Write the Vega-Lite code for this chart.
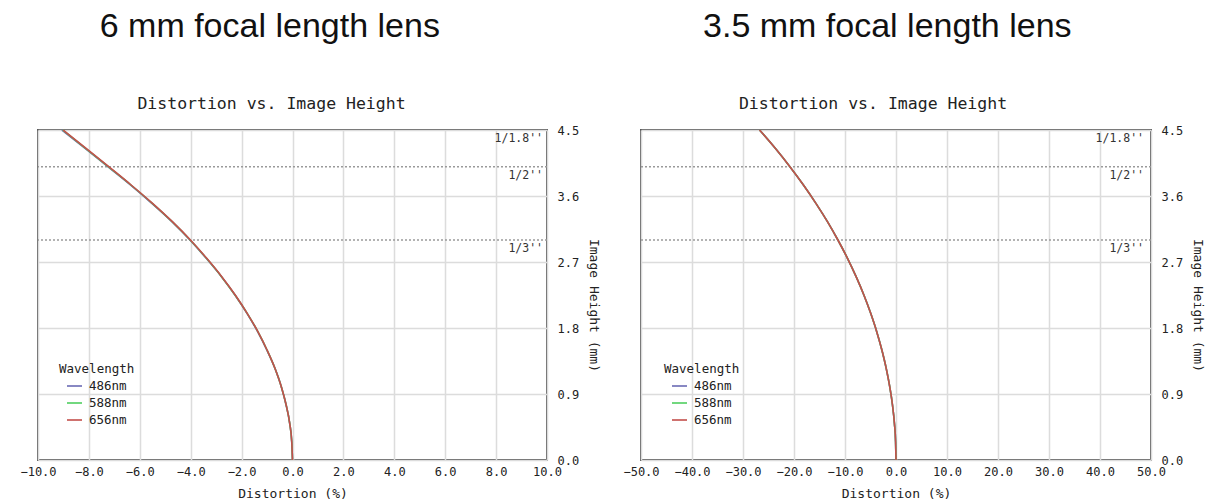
{
  "$schema": "https://vega.github.io/schema/vega-lite/v6.json",
  "background": "white",
  "padding": {"left": 18, "top": 9, "right": 0, "bottom": 0},
  "spacing": 20,
  "datasets": {
    "left": [
      {"wl": "486nm", "h": 0, "d": 0}, {"wl": "486nm", "h": 0.25, "d": -0.03}, {"wl": "486nm", "h": 0.5, "d": -0.11}, {"wl": "486nm", "h": 0.75, "d": -0.25}, {"wl": "486nm", "h": 1.0, "d": -0.44}, {"wl": "486nm", "h": 1.25, "d": -0.69}, {"wl": "486nm", "h": 1.5, "d": -1.01}, {"wl": "486nm", "h": 1.75, "d": -1.37}, {"wl": "486nm", "h": 2.0, "d": -1.79}, {"wl": "486nm", "h": 2.25, "d": -2.26}, {"wl": "486nm", "h": 2.5, "d": -2.79}, {"wl": "486nm", "h": 2.75, "d": -3.39}, {"wl": "486nm", "h": 3.0, "d": -4.03}, {"wl": "486nm", "h": 3.25, "d": -4.74}, {"wl": "486nm", "h": 3.5, "d": -5.53}, {"wl": "486nm", "h": 3.75, "d": -6.37}, {"wl": "486nm", "h": 4.0, "d": -7.26}, {"wl": "486nm", "h": 4.25, "d": -8.15}, {"wl": "486nm", "h": 4.5, "d": -9.06},
      {"wl": "588nm", "h": 0, "d": 0}, {"wl": "588nm", "h": 0.25, "d": -0.03}, {"wl": "588nm", "h": 0.5, "d": -0.11}, {"wl": "588nm", "h": 0.75, "d": -0.25}, {"wl": "588nm", "h": 1.0, "d": -0.44}, {"wl": "588nm", "h": 1.25, "d": -0.69}, {"wl": "588nm", "h": 1.5, "d": -1.00}, {"wl": "588nm", "h": 1.75, "d": -1.36}, {"wl": "588nm", "h": 2.0, "d": -1.78}, {"wl": "588nm", "h": 2.25, "d": -2.26}, {"wl": "588nm", "h": 2.5, "d": -2.79}, {"wl": "588nm", "h": 2.75, "d": -3.38}, {"wl": "588nm", "h": 3.0, "d": -4.02}, {"wl": "588nm", "h": 3.25, "d": -4.73}, {"wl": "588nm", "h": 3.5, "d": -5.51}, {"wl": "588nm", "h": 3.75, "d": -6.35}, {"wl": "588nm", "h": 4.0, "d": -7.24}, {"wl": "588nm", "h": 4.25, "d": -8.13}, {"wl": "588nm", "h": 4.5, "d": -9.03},
      {"wl": "656nm", "h": 0, "d": 0}, {"wl": "656nm", "h": 0.25, "d": -0.03}, {"wl": "656nm", "h": 0.5, "d": -0.11}, {"wl": "656nm", "h": 0.75, "d": -0.25}, {"wl": "656nm", "h": 1.0, "d": -0.44}, {"wl": "656nm", "h": 1.25, "d": -0.69}, {"wl": "656nm", "h": 1.5, "d": -1.00}, {"wl": "656nm", "h": 1.75, "d": -1.36}, {"wl": "656nm", "h": 2.0, "d": -1.78}, {"wl": "656nm", "h": 2.25, "d": -2.25}, {"wl": "656nm", "h": 2.5, "d": -2.78}, {"wl": "656nm", "h": 2.75, "d": -3.37}, {"wl": "656nm", "h": 3.0, "d": -4.01}, {"wl": "656nm", "h": 3.25, "d": -4.72}, {"wl": "656nm", "h": 3.5, "d": -5.50}, {"wl": "656nm", "h": 3.75, "d": -6.34}, {"wl": "656nm", "h": 4.0, "d": -7.22}, {"wl": "656nm", "h": 4.25, "d": -8.11}, {"wl": "656nm", "h": 4.5, "d": -9.01}
    ],
    "right": [
      {"wl": "486nm", "h": 0, "d": 0}, {"wl": "486nm", "h": 0.25, "d": -0.08}, {"wl": "486nm", "h": 0.5, "d": -0.31}, {"wl": "486nm", "h": 0.75, "d": -0.69}, {"wl": "486nm", "h": 1.0, "d": -1.23}, {"wl": "486nm", "h": 1.25, "d": -1.92}, {"wl": "486nm", "h": 1.5, "d": -2.77}, {"wl": "486nm", "h": 1.75, "d": -3.78}, {"wl": "486nm", "h": 2.0, "d": -4.96}, {"wl": "486nm", "h": 2.25, "d": -6.30}, {"wl": "486nm", "h": 2.5, "d": -7.82}, {"wl": "486nm", "h": 2.75, "d": -9.51}, {"wl": "486nm", "h": 3.0, "d": -11.39}, {"wl": "486nm", "h": 3.25, "d": -13.44}, {"wl": "486nm", "h": 3.5, "d": -15.70}, {"wl": "486nm", "h": 3.75, "d": -18.15}, {"wl": "486nm", "h": 4.0, "d": -20.80}, {"wl": "486nm", "h": 4.25, "d": -23.67}, {"wl": "486nm", "h": 4.5, "d": -26.76},
      {"wl": "588nm", "h": 0, "d": 0}, {"wl": "588nm", "h": 0.25, "d": -0.08}, {"wl": "588nm", "h": 0.5, "d": -0.31}, {"wl": "588nm", "h": 0.75, "d": -0.69}, {"wl": "588nm", "h": 1.0, "d": -1.23}, {"wl": "588nm", "h": 1.25, "d": -1.92}, {"wl": "588nm", "h": 1.5, "d": -2.77}, {"wl": "588nm", "h": 1.75, "d": -3.78}, {"wl": "588nm", "h": 2.0, "d": -4.96}, {"wl": "588nm", "h": 2.25, "d": -6.30}, {"wl": "588nm", "h": 2.5, "d": -7.82}, {"wl": "588nm", "h": 2.75, "d": -9.51}, {"wl": "588nm", "h": 3.0, "d": -11.39}, {"wl": "588nm", "h": 3.25, "d": -13.44}, {"wl": "588nm", "h": 3.5, "d": -15.70}, {"wl": "588nm", "h": 3.75, "d": -18.15}, {"wl": "588nm", "h": 4.0, "d": -20.80}, {"wl": "588nm", "h": 4.25, "d": -23.67}, {"wl": "588nm", "h": 4.5, "d": -26.76},
      {"wl": "656nm", "h": 0, "d": 0}, {"wl": "656nm", "h": 0.25, "d": -0.08}, {"wl": "656nm", "h": 0.5, "d": -0.31}, {"wl": "656nm", "h": 0.75, "d": -0.69}, {"wl": "656nm", "h": 1.0, "d": -1.23}, {"wl": "656nm", "h": 1.25, "d": -1.92}, {"wl": "656nm", "h": 1.5, "d": -2.77}, {"wl": "656nm", "h": 1.75, "d": -3.78}, {"wl": "656nm", "h": 2.0, "d": -4.96}, {"wl": "656nm", "h": 2.25, "d": -6.30}, {"wl": "656nm", "h": 2.5, "d": -7.82}, {"wl": "656nm", "h": 2.75, "d": -9.51}, {"wl": "656nm", "h": 3.0, "d": -11.39}, {"wl": "656nm", "h": 3.25, "d": -13.44}, {"wl": "656nm", "h": 3.5, "d": -15.70}, {"wl": "656nm", "h": 3.75, "d": -18.15}, {"wl": "656nm", "h": 4.0, "d": -20.80}, {"wl": "656nm", "h": 4.25, "d": -23.67}, {"wl": "656nm", "h": 4.5, "d": -26.76}
    ],
    "sensors": [
      {"sensor": "1/1.8''", "h": 4.5},
      {"sensor": "1/2''", "h": 4.0},
      {"sensor": "1/3''", "h": 3.0}
    ]
  },
  "resolve": {"scale": {"color": "independent"}, "legend": {"color": "independent"}},
  "hconcat": [
    {
      "title": {"text": "6 mm focal length lens", "font": "Liberation Sans", "fontSize": 34, "fontWeight": "normal", "color": "#111", "anchor": "middle", "frame": "bounds", "dx": -40, "offset": 51},
      "vconcat": [
        {
          "title": {"text": "Distortion vs. Image Height", "font": "DejaVu Sans Mono", "fontSize": 16.5, "fontWeight": "normal", "color": "#222", "anchor": "middle", "frame": "group", "dx": -21, "offset": 12},
          "width": 509,
          "height": 330,
          "layer": [
            {
              "data": {"name": "sensors"},
              "transform": [{"filter": "datum.h < 4.5"}],
              "mark": {"type": "rule", "color": "#9a9a9a", "strokeDash": [2, 2], "strokeWidth": 1.5},
              "encoding": {"y": {"field": "h", "type": "quantitative", "scale": {"domain": [0, 4.5], "nice": false}}}
            },
            {
              "data": {"name": "left"},
              "mark": {"type": "line", "strokeWidth": 1.6, "interpolate": "monotone"},
              "encoding": {
                "x": {"field": "d", "type": "quantitative", "scale": {"domain": [-10, 10], "nice": false},
                  "axis": {"title": "Distortion (%)", "values": [-10, -8, -6, -4, -2, 0, 2, 4, 6, 8, 10], "format": ".1f", "labelFlush": false, "labelOverlap": false, "labelPadding": 6, "titlePadding": 10}},
                "y": {"field": "h", "type": "quantitative", "scale": {"domain": [0, 4.5], "nice": false},
                  "axis": {"orient": "right", "title": "Image Height (mm)", "titleY": 175, "values": [0, 0.9, 1.8, 2.7, 3.6, 4.5], "format": ".1f", "labelFlush": false, "labelOverlap": false, "labelPadding": 10, "titlePadding": 8}},
                "color": {"field": "wl", "type": "nominal", "scale": {"domain": ["486nm", "588nm", "656nm"], "range": ["#6b6bb5", "#4fcf5f", "#c44f4c"]},
                  "legend": {"title": "Wavelength", "orient": "none", "legendX": 21, "legendY": 233}},
                "order": {"field": "h", "type": "quantitative"}
              }
            },
            {
              "data": {"name": "sensors"},
              "mark": {"type": "text", "align": "right", "baseline": "middle", "dx": -4, "dy": 9, "font": "DejaVu Sans Mono", "fontSize": 11.5, "color": "#333"},
              "encoding": {
                "x": {"datum": 10, "type": "quantitative"},
                "y": {"field": "h", "type": "quantitative"},
                "text": {"field": "sensor"}
              }
            }
          ]
        }
      ]
    },
    {
      "title": {"text": "3.5 mm focal length lens", "font": "Liberation Sans", "fontSize": 34, "fontWeight": "normal", "color": "#111", "anchor": "middle", "frame": "bounds", "dx": -26, "offset": 51},
      "vconcat": [
        {
          "title": {"text": "Distortion vs. Image Height", "font": "DejaVu Sans Mono", "fontSize": 16.5, "fontWeight": "normal", "color": "#222", "anchor": "middle", "frame": "group", "dx": -23, "offset": 12},
          "width": 510,
          "height": 330,
          "layer": [
            {
              "data": {"name": "sensors"},
              "transform": [{"filter": "datum.h < 4.5"}],
              "mark": {"type": "rule", "color": "#9a9a9a", "strokeDash": [2, 2], "strokeWidth": 1.5},
              "encoding": {"y": {"field": "h", "type": "quantitative", "scale": {"domain": [0, 4.5], "nice": false}}}
            },
            {
              "data": {"name": "right"},
              "mark": {"type": "line", "strokeWidth": 1.6, "interpolate": "monotone"},
              "encoding": {
                "x": {"field": "d", "type": "quantitative", "scale": {"domain": [-50, 50], "nice": false},
                  "axis": {"title": "Distortion (%)", "values": [-50, -40, -30, -20, -10, 0, 10, 20, 30, 40, 50], "format": ".1f", "labelFlush": false, "labelOverlap": false, "labelPadding": 6, "titlePadding": 10}},
                "y": {"field": "h", "type": "quantitative", "scale": {"domain": [0, 4.5], "nice": false},
                  "axis": {"orient": "right", "title": "Image Height (mm)", "titleY": 175, "values": [0, 0.9, 1.8, 2.7, 3.6, 4.5], "format": ".1f", "labelFlush": false, "labelOverlap": false, "labelPadding": 10, "titlePadding": 8}},
                "color": {"field": "wl", "type": "nominal", "scale": {"domain": ["486nm", "588nm", "656nm"], "range": ["#6b6bb5", "#4fcf5f", "#c44f4c"]},
                  "legend": {"title": "Wavelength", "orient": "none", "legendX": 23, "legendY": 233}},
                "order": {"field": "h", "type": "quantitative"}
              }
            },
            {
              "data": {"name": "sensors"},
              "mark": {"type": "text", "align": "right", "baseline": "middle", "dx": -7, "dy": 9, "font": "DejaVu Sans Mono", "fontSize": 11.5, "color": "#333"},
              "encoding": {
                "x": {"datum": 50, "type": "quantitative"},
                "y": {"field": "h", "type": "quantitative"},
                "text": {"field": "sensor"}
              }
            }
          ]
        }
      ]
    }
  ],
  "config": {
    "view": {"stroke": "#5a5a5a", "strokeWidth": 2},
    "axis": {"labelFont": "DejaVu Sans Mono", "labelFontSize": 12, "labelColor": "#222", "titleFont": "DejaVu Sans Mono", "titleFontSize": 13, "titleFontWeight": "normal", "titleColor": "#222", "gridColor": "#dcdcdc", "gridWidth": 1.5, "ticks": false, "domain": false},
    "legend": {"titleFont": "DejaVu Sans Mono", "titleFontSize": 12.5, "titleFontWeight": "normal", "titleColor": "#222", "labelFont": "DejaVu Sans Mono", "labelFontSize": 12.5, "labelColor": "#222", "symbolType": "stroke", "symbolSize": 225, "symbolStrokeWidth": 1.6, "symbolOffset": 7, "labelOffset": 6, "rowPadding": 2, "titlePadding": 2}
  }
}
